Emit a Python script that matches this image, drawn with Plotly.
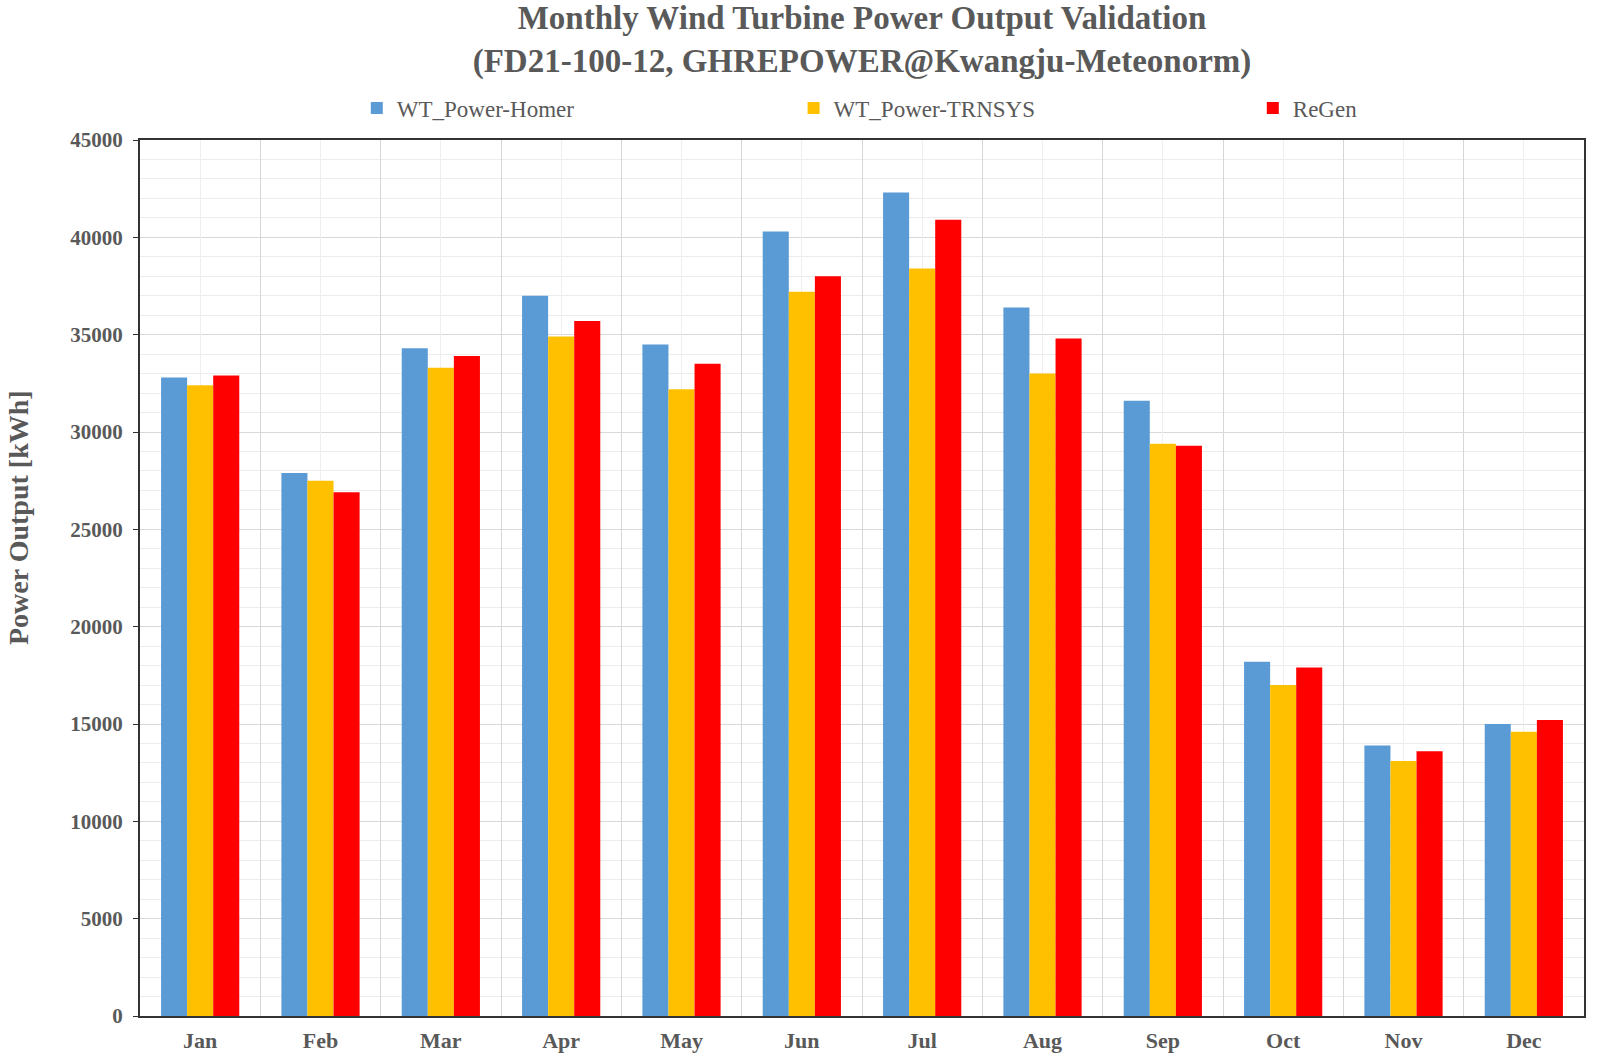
import plotly.graph_objects as go

# monthly values (kWh)
months = ["Jan", "Feb", "Mar", "Apr", "May", "Jun", "Jul", "Aug", "Sep", "Oct", "Nov", "Dec"]
homer = [32800, 27900, 34300, 37000, 34500, 40300, 42300, 36400, 31600, 18200, 13900, 15000]
trnsys = [32400, 27500, 33300, 34900, 32200, 37200, 38400, 33000, 29400, 17000, 13100, 14600]
regen = [32900, 26900, 33900, 35700, 33500, 38000, 40900, 34800, 29300, 17900, 13600, 15200]

series = [
    ("WT_Power-Homer", homer, "#5B9BD5", "legend", 0.223),
    ("WT_Power-TRNSYS", trnsys, "#FFC000", "legend2", 0.496),
    ("ReGen", regen, "#FF0000", "legend3", 0.783),
]

font_family = "Liberation Serif"
grey = "#595959"

fig = go.Figure()

legends = {}
for name, vals, color, leg, lx in series:
    fig.add_trace(go.Bar(
        x=months, y=vals, name=name, legend=leg,
        marker=dict(color=color, line=dict(width=0)),
    ))
    legends[leg] = dict(
        xref="container", yref="container", x=lx, xanchor="left",
        y=1 - 108 / 1060, yanchor="middle", orientation="h", itemwidth=30,
        font=dict(size=23, color=grey, family=font_family),
        bgcolor="rgba(0,0,0,0)",
    )

# invisible helper trace so a second x axis can draw faint lines at category centres
fig.add_trace(go.Scatter(
    x=months, y=homer, xaxis="x2", mode="markers",
    marker=dict(opacity=0), showlegend=False, hoverinfo="skip",
))

fig.update_layout(
    width=1600, height=1060,
    barmode="group", bargap=0.35, bargroupgap=0,
    paper_bgcolor="white", plot_bgcolor="white",
    font=dict(family=font_family, color=grey),
    margin=dict(l=140, r=16, t=140, b=44, autoexpand=False),
    title=dict(
        text="<b>Monthly Wind Turbine Power Output Validation<br>(FD21-100-12, GHREPOWER@Kwangju-Meteonorm)</b>",
        x=0.5, xanchor="center", xref="paper", yref="container",
        y=1 - 29 / 1060, yanchor="middle",
        font=dict(size=33, color=grey, family=font_family),
    ),
    **legends,
    xaxis=dict(
        type="category", tickson="boundaries",
        showgrid=True, gridcolor="#d6d6d6", gridwidth=1,
        showline=True, linecolor="#333333", linewidth=2, mirror=True,
        ticks="", tickfont=dict(size=22, color=grey, family=font_family),
        ticklabelstandoff=4,
        tickprefix="<b>", ticksuffix="</b>",
    ),
    xaxis2=dict(
        type="category", overlaying="x", categoryarray=months,
        range=[-0.5, 11.5], showgrid=True, gridcolor="#eeeeee",
        showticklabels=False, ticks="", showline=False, zeroline=False,
        layer="below traces",
    ),
    yaxis=dict(
        range=[0, 45000], dtick=5000, tickformat="d",
        showgrid=True, gridcolor="#d9d9d9", gridwidth=1,
        minor=dict(dtick=1000, showgrid=True, gridcolor="#ececec", gridwidth=1),
        showline=True, linecolor="#333333", linewidth=2, mirror=True,
        ticks="outside", ticklen=5, tickcolor="#333333",
        zeroline=False, automargin=False,
        tickfont=dict(size=21, color=grey, family=font_family),
        ticklabelstandoff=6,
        tickprefix="<b>", ticksuffix="</b>",
    ),
    annotations=[dict(
        text="<b>Power Output [kWh]</b>", textangle=-90,
        xref="paper", yref="paper", x=(18 - 140) / 1444, y=(1016 - 518) / 876,
        xanchor="center", yanchor="middle", showarrow=False,
        font=dict(size=28, color=grey, family=font_family),
    )],
)

fig.write_html("out.html", config={"displayModeBar": False},
               post_script="document.body.style.margin='0px';")
